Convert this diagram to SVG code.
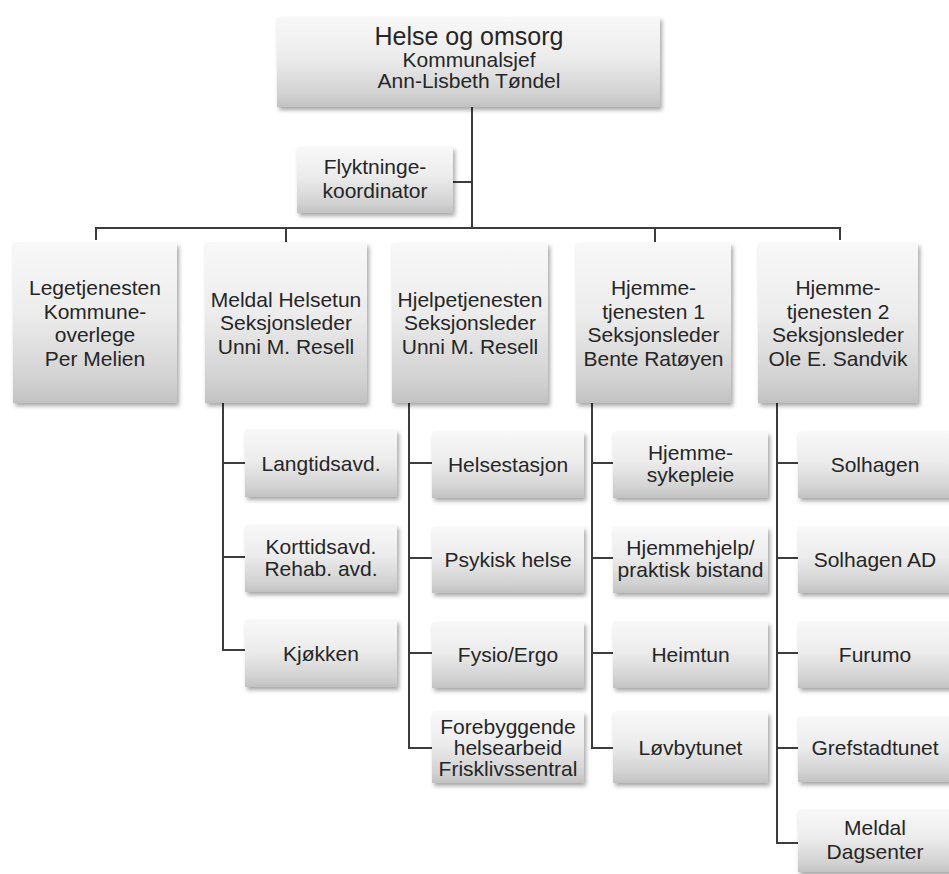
<svg xmlns="http://www.w3.org/2000/svg" width="949" height="874" viewBox="0 0 949 874">
<defs>
<linearGradient id="g" x1="0" y1="0" x2="0" y2="1">
<stop offset="0" stop-color="#f8f8f8"/>
<stop offset="0.45" stop-color="#ececec"/>
<stop offset="0.85" stop-color="#d2d2d2"/>
<stop offset="1" stop-color="#c2c2c2"/>
</linearGradient>
<filter id="sh" x="-10%" y="-10%" width="125%" height="130%">
<feDropShadow dx="2" dy="3" stdDeviation="2" flood-color="#000" flood-opacity="0.35"/>
</filter>
</defs>
<style>
.box{fill:url(#g);filter:url(#sh);}
text{font-family:"Liberation Sans",Arial,sans-serif;fill:#262626;text-anchor:middle;font-size:21px;}
.title{font-size:25px;}
.ln{fill:none;stroke:#3c3c3c;stroke-width:2;}
</style>
<rect width="949" height="874" fill="#fff"/>

<g id="connectors">
<path class="ln" d="M472 107V228M453 182H472M96 240V228H840V240M286 228V242M655 228V242"/>
<path class="ln" d="M223 403V650H245M223 463H245M223 557H245"/>
<path class="ln" d="M409 403V748H432M409 463H432M409 558H432M409 653H432"/>
<path class="ln" d="M592 403V748H613M592 463H613M592 558H613M592 653H613"/>
<path class="ln" d="M777 403V843H798M777 463H798M777 558H798M777 653H798M777 748H798"/>
</g>

<g id="helse-og-omsorg"><rect class="box" x="277" y="17" width="383" height="90"/>
<text class="title" x="469" y="45">Helse og omsorg</text>
<text x="469" y="67">Kommunalsjef</text>
<text x="469" y="88">Ann-Lisbeth Tøndel</text></g>

<g id="flyktningekoordinator"><rect class="box" x="297" y="147" width="156" height="66"/>
<text x="375" y="174">Flyktninge-</text>
<text x="375" y="198">koordinator</text></g>

<g id="legetjenesten"><rect class="box" x="13" y="243" width="164" height="160"/>
<text x="95" y="295">Legetjenesten</text>
<text x="95" y="319">Kommune-</text>
<text x="95" y="342">overlege</text>
<text x="95" y="366">Per Melien</text></g>

<g id="meldal-helsetun"><rect class="box" x="205" y="243" width="162" height="160"/>
<text x="286" y="307">Meldal Helsetun</text>
<text x="286" y="330">Seksjonsleder</text>
<text x="286" y="354">Unni M. Resell</text></g>

<g id="hjelpetjenesten"><rect class="box" x="392" y="243" width="156" height="160"/>
<text x="470" y="307">Hjelpetjenesten</text>
<text x="470" y="330">Seksjonsleder</text>
<text x="470" y="354">Unni M. Resell</text></g>

<g id="hjemmetjenesten-1"><rect class="box" x="576" y="243" width="155" height="160"/>
<text x="653.5" y="295">Hjemme-</text>
<text x="653.5" y="319">tjenesten 1</text>
<text x="653.5" y="342">Seksjonsleder</text>
<text x="653.5" y="366">Bente Ratøyen</text></g>

<g id="hjemmetjenesten-2"><rect class="box" x="758" y="243" width="160" height="160"/>
<text x="838" y="295">Hjemme-</text>
<text x="838" y="319">tjenesten 2</text>
<text x="838" y="342">Seksjonsleder</text>
<text x="838" y="366">Ole E. Sandvik</text></g>

<g id="langtidsavd"><rect class="box" x="245" y="430" width="152" height="67"/>
<text x="321" y="471">Langtidsavd.</text></g>
<g id="korttidsavd"><rect class="box" x="245" y="525" width="152" height="67"/>
<text x="321" y="554">Korttidsavd.</text>
<text x="321" y="576">Rehab. avd.</text></g>
<g id="kjokken"><rect class="box" x="245" y="620" width="152" height="67"/>
<text x="321" y="661">Kjøkken</text></g>

<g id="helsestasjon"><rect class="box" x="432" y="432" width="152" height="66"/>
<text x="508" y="472">Helsestasjon</text></g>
<g id="psykisk-helse"><rect class="box" x="432" y="527" width="152" height="66"/>
<text x="508" y="567">Psykisk helse</text></g>
<g id="fysio-ergo"><rect class="box" x="432" y="622" width="152" height="66"/>
<text x="508" y="662">Fysio/Ergo</text></g>
<g id="forebyggende"><rect class="box" x="432" y="712" width="152" height="71"/>
<text x="508" y="734">Forebyggende</text>
<text x="508" y="755">helsearbeid</text>
<text x="508" y="776">Frisklivssentral</text></g>

<g id="hjemmesykepleie"><rect class="box" x="613" y="432" width="155" height="66"/>
<text x="690.5" y="460">Hjemme-</text>
<text x="690.5" y="482">sykepleie</text></g>
<g id="hjemmehjelp"><rect class="box" x="613" y="527" width="155" height="66"/>
<text x="690.5" y="555">Hjemmehjelp/</text>
<text x="690.5" y="577">praktisk bistand</text></g>
<g id="heimtun"><rect class="box" x="613" y="622" width="155" height="66"/>
<text x="690.5" y="662">Heimtun</text></g>
<g id="lovbytunet"><rect class="box" x="613" y="712" width="155" height="71"/>
<text x="690.5" y="755">Løvbytunet</text></g>

<g id="solhagen"><rect class="box" x="798" y="432" width="154" height="66"/>
<text x="875" y="472">Solhagen</text></g>
<g id="solhagen-ad"><rect class="box" x="798" y="527" width="154" height="66"/>
<text x="875" y="567">Solhagen  AD</text></g>
<g id="furumo"><rect class="box" x="798" y="622" width="154" height="66"/>
<text x="875" y="662">Furumo</text></g>
<g id="grefstadtunet"><rect class="box" x="798" y="717" width="154" height="65"/>
<text x="875" y="755">Grefstadtunet</text></g>
<g id="meldal-dagsenter"><rect class="box" x="798" y="810" width="154" height="62"/>
<text x="875" y="835">Meldal</text>
<text x="875" y="859">Dagsenter</text></g>
</svg>
